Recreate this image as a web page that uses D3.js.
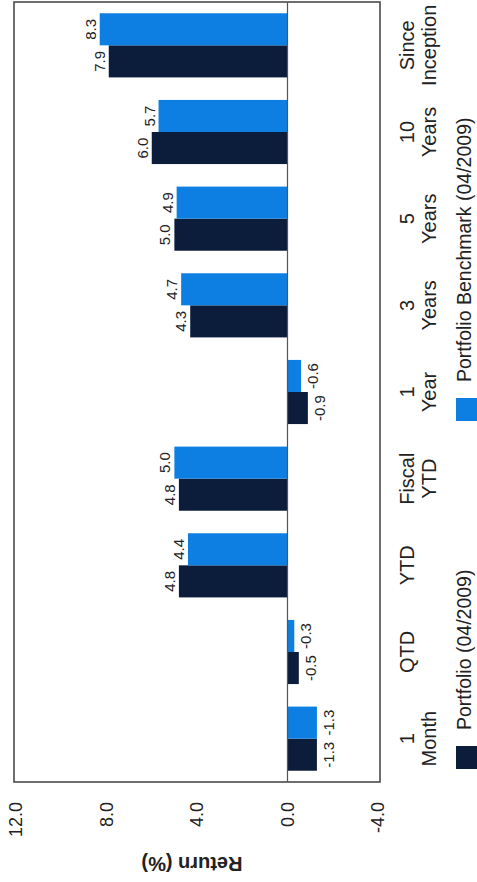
<!DOCTYPE html>
<html>
<head>
<meta charset="utf-8">
<script src="https://cdn.jsdelivr.net/npm/d3@7"></script>
<style>
  html, body { margin: 0; padding: 0; background: #fff; }
  svg { display: block; font-family: "Liberation Sans", Arial, Helvetica, sans-serif; }
</style>
</head>
<body>
<svg id="chart" width="477" height="882"></svg>
<script>
// Period returns (%) for the portfolio and its benchmark
const categories = [
  ["1", "Month"], ["QTD"], ["YTD"], ["Fiscal", "YTD"], ["1", "Year"],
  ["3", "Years"], ["5", "Years"], ["10", "Years"], ["Since", "Inception"]
];
const portfolio = [-1.3, -0.5, 4.8, 4.8, -0.9, 4.3, 5.0, 6.0, 7.9];
const benchmark = [-1.3, -0.3, 4.4, 5.0, -0.6, 4.7, 4.9, 5.7, 8.3];
const seriesNames = ["Portfolio (04/2009)", "Portfolio Benchmark (04/2009)"];
const seriesColors = ["#0c1d3b", "#0d7ee2"];
const tickValues = [-4, 0, 4, 8, 12];
const axisTitle = "Return (%)";

const W = 882;                        // chart drawn upright, then turned a quarter turn
const plot = { left: 100, right: 880, top: 14, bottom: 380 };

// plain hyphen for negative numbers
const fmt = d3.formatLocale({ decimal: ".", thousands: ",", grouping: [3], currency: ["$", ""], minus: "-" }).format(".1f");

const svg = d3.select("#chart");
svg.append("rect").attr("width", 477).attr("height", 882).attr("fill", "#fff");

const g = svg.append("g").attr("transform", `translate(0,${W}) rotate(-90)`);

const rows = categories.map((c, i) => ({
  key: c.join(" "), lines: c, values: [portfolio[i], benchmark[i]]
}));

const x0 = d3.scaleBand()
  .domain(rows.map(d => d.key))
  .range([plot.left, plot.right])
  .paddingInner(0.26)
  .paddingOuter(0.13);

const x1 = d3.scaleBand()
  .domain([0, 1])
  .range([0, x0.bandwidth()]);

const y = d3.scaleLinear().domain([-4, 12]).range([378, 16]);

// plot frame
g.append("rect")
  .attr("x", plot.left).attr("y", plot.top)
  .attr("width", plot.right - plot.left).attr("height", plot.bottom - plot.top)
  .attr("fill", "#fff").attr("stroke", "#4a4a4a").attr("stroke-width", 1.6);

// bars
const groups = g.selectAll("g.cat").data(rows).join("g")
  .attr("class", "cat")
  .attr("transform", d => `translate(${x0(d.key)},0)`);

groups.selectAll("rect").data(d => d.values.map((v, j) => ({ v, j }))).join("rect")
  .attr("x", d => x1(d.j))
  .attr("width", x1.bandwidth())
  .attr("y", d => y(Math.max(0, d.v)))
  .attr("height", d => Math.abs(y(d.v) - y(0)))
  .attr("fill", d => seriesColors[d.j]);

// value labels
groups.selectAll("text").data(d => d.values.map((v, j) => ({ v, j }))).join("text")
  .attr("x", d => x1(d.j) + x1.bandwidth() / 2)
  .attr("y", d => d.v >= 0 ? y(d.v) - 4 : y(d.v) + 17)
  .attr("text-anchor", "middle")
  .attr("font-size", 15)
  .attr("fill", "#222")
  .text(d => fmt(d.v));

// zero line
g.append("line")
  .attr("x1", plot.left).attr("x2", plot.right)
  .attr("y1", y(0)).attr("y2", y(0))
  .attr("stroke", "#555").attr("stroke-width", 1.2);

// value axis
const yAxis = g.append("g")
  .attr("transform", `translate(80,0)`)
  .call(d3.axisLeft(y).tickValues(tickValues).tickSize(0).tickPadding(0).tickFormat(fmt));
yAxis.select(".domain").remove();
yAxis.selectAll("text")
  .attr("font-size", 18)
  .attr("font-family", "\"Liberation Sans\", Arial, sans-serif")
  .attr("fill", "#222");

g.append("text")
  .attr("transform", `translate(25,192) rotate(-90)`)
  .attr("text-anchor", "middle")
  .attr("font-size", 20)
  .attr("font-weight", "bold")
  .attr("fill", "#222")
  .text(axisTitle);

// category labels
const catLabels = g.selectAll("text.cat").data(rows).join("text")
  .attr("class", "cat")
  .attr("text-anchor", "middle")
  .attr("font-size", 20)
  .attr("fill", "#222");
catLabels.selectAll("tspan").data(d => d.lines.map(t => ({ t, c: x0(d.key) + x0.bandwidth() / 2 }))).join("tspan")
  .attr("x", d => d.c)
  .attr("y", (d, i) => 414 + i * 22)
  .text(d => d.t);

// legend
const legendX = [113, 461];
const legend = g.selectAll("g.legend").data(seriesNames).join("g")
  .attr("class", "legend")
  .attr("transform", (d, i) => `translate(${legendX[i]},0)`);
legend.append("rect")
  .attr("x", 0).attr("y", 456).attr("width", 23).attr("height", 21)
  .attr("fill", (d, i) => seriesColors[i]);
legend.append("text")
  .attr("x", 39).attr("y", 471)
  .attr("font-size", 19.5)
  .attr("fill", "#222")
  .text(d => d);
</script>
</body>
</html>
